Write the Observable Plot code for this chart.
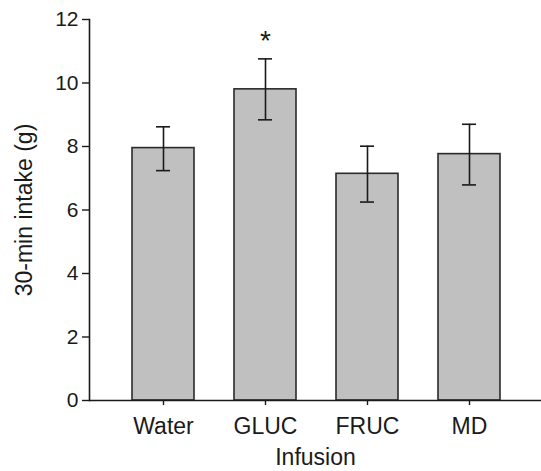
<!DOCTYPE html>
<html>
<head>
<meta charset="utf-8">
<script src="https://cdn.jsdelivr.net/npm/d3@7"></script>
<script src="https://cdn.jsdelivr.net/npm/@observablehq/plot@0.6"></script>
<style>
  html, body { margin: 0; padding: 0; background: #fff; }
  #chart { width: 541px; height: 471px; }
</style>
</head>
<body>
<div id="chart"></div>
<script>
// Data
const categories = ["Water", "GLUC", "FRUC", "MD"];
const means = [7.95, 9.80, 7.14, 7.76];
const lows = [7.24, 8.84, 6.25, 6.79];
const highs = [8.62, 10.76, 8.01, 8.70];
const significance = ["", "*", "", ""];
const yTicks = [0, 2, 4, 6, 8, 10, 12];
const yLabel = "30-min intake (g)";
const xLabel = "Infusion";

const data = categories.map((c, i) => ({
  cat: c, mean: means[i], lo: lows[i], hi: highs[i], sig: significance[i]
}));
const starred = data.filter(d => d.sig);

const ink = "#1a1a1a";
const font = "'Liberation Sans', Arial, Helvetica, sans-serif";

const chart = Plot.plot({
  width: 541,
  height: 471,
  marginTop: 19,
  marginBottom: 71,
  marginLeft: 89,
  marginRight: 0,
  style: { fontFamily: font, color: ink, background: "#fff", overflow: "visible" },
  x: { domain: categories, range: [111, 520.5], paddingInner: 0.395, paddingOuter: 0.1975, align: 0.5 },
  y: { domain: [0, 12] },
  marks: [
    Plot.barY(data, { x: "cat", y: "mean", fill: "#c0c0c0", stroke: "#2a2a2a", strokeWidth: 1.6 }),
    Plot.ruleX(data, { x: "cat", y1: "lo", y2: "hi", stroke: ink, strokeWidth: 1.6 }),
    Plot.tickY(data, { x: "cat", y: "lo", stroke: ink, strokeWidth: 1.6, insetLeft: 24, insetRight: 24 }),
    Plot.tickY(data, { x: "cat", y: "hi", stroke: ink, strokeWidth: 1.6, insetLeft: 24, insetRight: 24 }),
    Plot.text(starred, { x: "cat", y: "hi", text: "sig", dy: -18, fontSize: 28, fill: ink }),
    Plot.ruleY([0], { stroke: ink, strokeWidth: 1.6 }),
    Plot.frame({ anchor: "left", stroke: ink, strokeWidth: 1.6 }),
    Plot.axisY({ ticks: yTicks, tickSize: 7, tickPadding: 4, fontSize: 21, label: null, stroke: ink, strokeWidth: 1.4 }),
    Plot.axisX({ tickSize: 5, tickPadding: 12, fontSize: 23, label: null, stroke: ink, strokeWidth: 1.4 }),
    Plot.text([yLabel], { frameAnchor: "left", textAnchor: "middle", rotate: -90, dx: -65, fontSize: 23, fill: ink }),
    Plot.text([xLabel], { frameAnchor: "bottom", textAnchor: "middle", lineAnchor: "top", dx: 0, dy: 48, fontSize: 23, fill: ink })
  ]
});
document.getElementById("chart").appendChild(chart);
</script>
</body>
</html>
